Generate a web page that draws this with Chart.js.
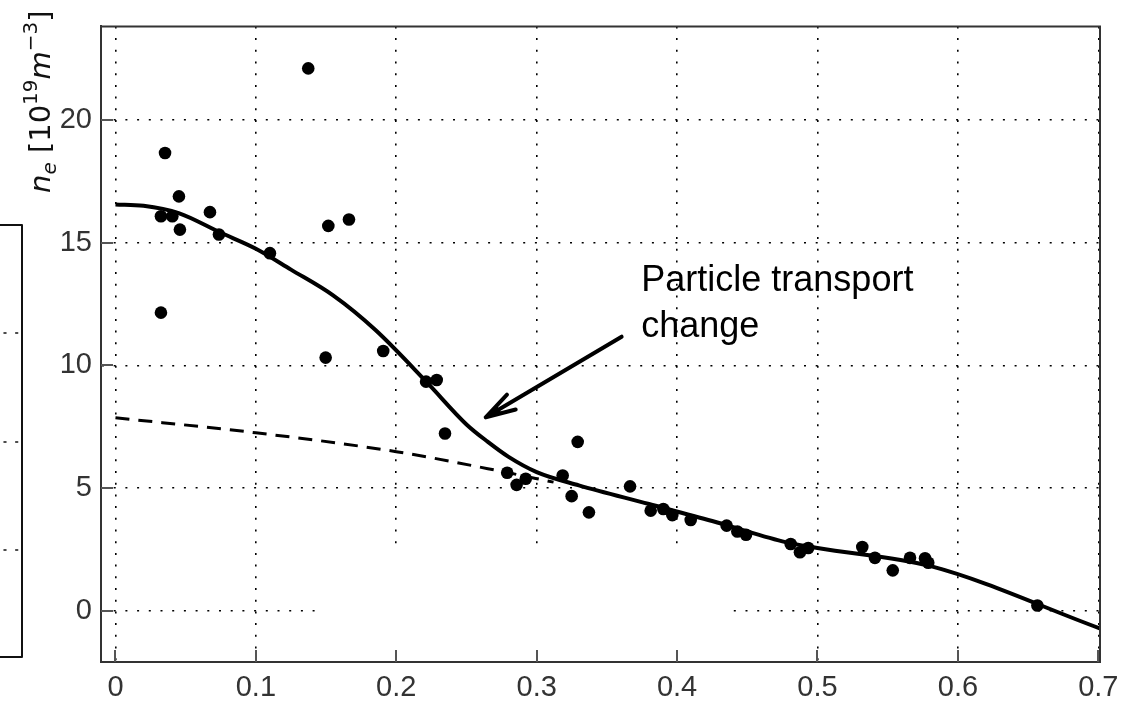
<!DOCTYPE html>
<html>
<head>
<meta charset="utf-8">
<script src="https://cdn.jsdelivr.net/npm/chart.js@4/dist/chart.umd.min.js"></script>
<style>
  html, body { margin: 0; padding: 0; background: #ffffff; }
  #wrap { width: 1135px; height: 704px; }
</style>
</head>
<body>
<div id="wrap"><canvas id="c" width="1135" height="704"></canvas></div>
<script>
// Measured electron density points (normalised radius, n_e in 1e19 m^-3)
const measRho = [0.0353, 0.0452, 0.0673, 0.0324, 0.0405, 0.0459, 0.0737, 0.0324,
  0.1100, 0.1373, 0.1516, 0.1663, 0.1497, 0.1907, 0.2212, 0.2288, 0.2347,
  0.2790, 0.2857, 0.2922, 0.3185, 0.3249, 0.3292, 0.3372, 0.3665,
  0.3812, 0.3902, 0.3966, 0.4097, 0.4353, 0.4429, 0.4491,
  0.4809, 0.4875, 0.4934, 0.5319, 0.5409, 0.5536, 0.5659, 0.5766, 0.5789, 0.6566];
const measNe = [18.65, 16.88, 16.24, 16.07, 16.07, 15.53, 15.33, 12.15,
  14.57, 22.09, 15.68, 15.94, 10.32, 10.59, 9.34, 9.41, 7.23,
  5.63, 5.14, 5.39, 5.52, 4.68, 6.89, 4.02, 5.08,
  4.09, 4.16, 3.91, 3.71, 3.48, 3.24, 3.11,
  2.73, 2.40, 2.57, 2.61, 2.17, 1.66, 2.17, 2.15, 1.97, 0.23];

// Fitted profile (solid)
const fitRho = [0, 0.02, 0.045, 0.075, 0.10, 0.125, 0.155, 0.185, 0.222,
  0.25, 0.265, 0.28, 0.30, 0.33, 0.38, 0.425, 0.475, 0.50, 0.58, 0.701];
const fitNe = [16.55, 16.5, 16.2, 15.4, 14.75, 13.9, 12.85, 11.45, 9.3,
  7.6, 6.9, 6.28, 5.66, 5.12, 4.36, 3.67, 2.84, 2.57, 1.84, -0.70];

// Profile without the transport change (dashed)
const refRho = [0, 0.10, 0.20, 0.274, 0.312];
const refNe = [7.87, 7.26, 6.49, 5.70, 5.25];

// Axis ticks
const xTicks = [0, 0.1, 0.2, 0.3, 0.4, 0.5, 0.6, 0.7];
const yTicks = [0, 5, 10, 15, 20];
const xRange = [-0.0103, 0.7012];
const yRange = [-2.07, 23.8];

// Annotation
const noteLines = ['Particle transport', 'change'];
const noteAnchor = { x: 0.3745, y: 13.02 };
const arrowFrom = { x: 0.3605, y: 11.17 };
const arrowTo = { x: 0.2637, y: 7.89 };

// Region of the frame left free of grid lines
const blankBox = { x0: 0.148, x1: 0.435, y0: -2.07, y1: 2.5 };

const toXY = (xs, ys) => xs.map((x, i) => ({ x: x, y: ys[i] }));

const decor = {
  id: 'decor',
  beforeDatasetsDraw(chart) {
    const { ctx, scales: { x, y }, chartArea: a } = chart;
    ctx.save();
    ctx.fillStyle = '#ffffff';
    const l = x.getPixelForValue(blankBox.x0), r = x.getPixelForValue(blankBox.x1);
    const t = y.getPixelForValue(blankBox.y1);
    ctx.fillRect(l, t, r - l, a.bottom - 1.5 - t);
    ctx.restore();
  },
  afterDraw(chart) {
    const { ctx, scales: { x, y }, chartArea: a } = chart;
    ctx.save();
    // top and right frame
    ctx.strokeStyle = '#333333';
    ctx.lineWidth = 2;
    ctx.beginPath();
    ctx.moveTo(a.left - 1, a.top);
    ctx.lineTo(a.right, a.top);
    ctx.lineTo(a.right, a.bottom + 1);
    ctx.stroke();
    // inner tick marks
    ctx.strokeStyle = '#555555';
    ctx.lineWidth = 2;
    ctx.beginPath();
    xTicks.forEach(v => {
      const px = Math.round(x.getPixelForValue(v));
      ctx.moveTo(px, a.bottom);
      ctx.lineTo(px, a.bottom - 12);
    });
    yTicks.forEach(v => {
      const py = Math.round(y.getPixelForValue(v));
      ctx.moveTo(a.left, py);
      ctx.lineTo(a.left + 12, py);
    });
    ctx.stroke();

    // arrow
    const x0 = x.getPixelForValue(arrowFrom.x), y0 = y.getPixelForValue(arrowFrom.y);
    const x1 = x.getPixelForValue(arrowTo.x), y1 = y.getPixelForValue(arrowTo.y);
    const ang = Math.atan2(y0 - y1, x0 - x1);
    ctx.strokeStyle = '#000000';
    ctx.fillStyle = '#000000';
    ctx.lineWidth = 4;
    ctx.lineCap = 'round';
    ctx.lineJoin = 'round';
    ctx.beginPath();
    ctx.moveTo(x0, y0);
    ctx.lineTo(x1, y1);
    const hl = 31, ha = 0.28;
    ctx.moveTo(x1 + hl * Math.cos(ang + ha), y1 + hl * Math.sin(ang + ha));
    ctx.lineTo(x1, y1);
    ctx.lineTo(x1 + hl * Math.cos(ang - ha), y1 + hl * Math.sin(ang - ha));
    ctx.stroke();
    ctx.beginPath();
    ctx.moveTo(x1, y1);
    ctx.lineTo(x1 + 16 * Math.cos(ang + 0.2), y1 + 16 * Math.sin(ang + 0.2));
    ctx.lineTo(x1 + 16 * Math.cos(ang - 0.2), y1 + 16 * Math.sin(ang - 0.2));
    ctx.closePath();
    ctx.fill();

    // annotation text
    ctx.fillStyle = '#000000';
    ctx.font = '36px "Liberation Sans", Arial, sans-serif';
    ctx.textAlign = 'left';
    ctx.textBaseline = 'alphabetic';
    const tx = x.getPixelForValue(noteAnchor.x), ty = y.getPixelForValue(noteAnchor.y);
    noteLines.forEach((s, i) => ctx.fillText(s, tx, ty + i * 46));

    // y-axis title: n_e [10^19 m^-3]
    const fs = 29;
    const parts = [
      { t: 'n', it: true, k: 1, dy: 0 },
      { t: 'e', it: true, k: 0.7, dy: 0.22 },
      { t: ' [10', it: false, k: 1, dy: 0 },
      { t: '19', it: false, k: 0.7, dy: -0.45 },
      { t: 'm', it: true, k: 1, dy: 0 },
      { t: '\u22123', it: false, k: 0.7, dy: -0.45 },
      { t: ']', it: false, k: 1, dy: 0 }
    ];
    ctx.fillStyle = '#111111';
    ctx.translate(50, 193);
    ctx.rotate(-Math.PI / 2);
    let cx = 0;
    parts.forEach(p => {
      ctx.font = (p.it ? 'italic ' : '') + Math.round(fs * p.k) + 'px "DejaVu Sans", sans-serif';
      ctx.fillText(p.t, cx, p.dy * fs);
      cx += ctx.measureText(p.t).width;
    });
    ctx.setTransform(1, 0, 0, 1, 0, 0);

    // neighbouring panel edge on the far left
    ctx.strokeStyle = '#111111';
    ctx.lineWidth = 2;
    ctx.beginPath();
    ctx.moveTo(0, 225);
    ctx.lineTo(22, 225);
    ctx.lineTo(22, 657);
    ctx.lineTo(0, 657);
    ctx.stroke();
    ctx.lineWidth = 1.5;
    ctx.setLineDash([2, 9.7]);
    ctx.beginPath();
    [333, 442, 550].forEach(py => { ctx.moveTo(4, py); ctx.lineTo(21, py); });
    ctx.stroke();
    ctx.restore();
  }
};

const gridStyle = { color: '#000000', lineWidth: 1.6, drawTicks: false };

new Chart(document.getElementById('c'), {
  data: {
    datasets: [
      {
        type: 'scatter',
        data: toXY(measRho, measNe),
        pointRadius: 6.3,
        pointHoverRadius: 6.3,
        pointBackgroundColor: '#000000',
        pointBorderWidth: 0,
        showLine: false,
        order: 0
      },
      {
        type: 'line',
        data: toXY(fitRho, fitNe),
        borderColor: '#000000',
        borderWidth: 4,
        pointRadius: 0,
        fill: false,
        cubicInterpolationMode: 'monotone',
        order: 1
      },
      {
        type: 'line',
        data: toXY(refRho, refNe),
        borderColor: '#000000',
        borderWidth: 3,
        borderDash: [14, 9],
        pointRadius: 0,
        fill: false,
        cubicInterpolationMode: 'monotone',
        order: 2
      }
    ]
  },
  options: {
    responsive: false,
    animation: false,
    devicePixelRatio: 1,
    layout: { padding: { left: 0, top: 19, right: 35, bottom: 0 } },
    plugins: { legend: { display: false }, tooltip: { enabled: false } },
    scales: {
      x: {
        type: 'linear',
        min: xRange[0],
        max: xRange[1],
        afterFit: s => { s.height = 42; },
        afterBuildTicks: s => { s.ticks = xTicks.map(v => ({ value: v })); },
        grid: gridStyle,
        border: { color: '#333333', width: 2, dash: [2, 9.7] },
        ticks: {
          color: '#333333',
          padding: 9,
          maxRotation: 0,
          autoSkip: false,
          font: { family: '"Liberation Sans", Arial, sans-serif', size: 29 },
          callback: v => (v === 0 ? '0' : (+v).toFixed(1))
        }
      },
      y: {
        type: 'linear',
        min: yRange[0],
        max: yRange[1],
        afterFit: s => { s.width = 101; },
        afterBuildTicks: s => { s.ticks = yTicks.map(v => ({ value: v })); },
        grid: gridStyle,
        border: { color: '#333333', width: 2, dash: [2, 9.7] },
        ticks: {
          color: '#333333',
          padding: 9,
          autoSkip: false,
          font: { family: '"Liberation Sans", Arial, sans-serif', size: 29 },
          callback: v => String(v)
        }
      }
    }
  },
  plugins: [decor]
});
</script>
</body>
</html>
